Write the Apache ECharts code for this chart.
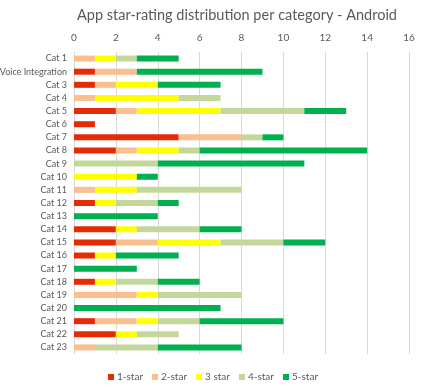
<!DOCTYPE html>
<html><head><meta charset="utf-8">
<script src="https://cdn.jsdelivr.net/npm/echarts@6/dist/echarts.min.js"></script>
<style>html,body{margin:0;padding:0;background:#fff}#c{width:426px;height:390px}</style>
</head><body><div id="c"></div>
<script>
var categories = ["Cat 1","Voice Integration","Cat 3","Cat 4","Cat 5","Cat 6","Cat 7","Cat 8","Cat 9","Cat 10","Cat 11","Cat 12","Cat 13","Cat 14","Cat 15","Cat 16","Cat 17","Cat 18","Cat 19","Cat 20","Cat 21","Cat 22","Cat 23"];
var seriesNames = ["1-star","2-star","3 star","4-star","5-star"];
var star1 = [0,1,1,0,2,1,5,2,0,0,0,1,0,2,2,1,0,1,0,0,1,2,0];
var star2 = [1,2,1,1,1,0,3,1,0,0,1,0,0,0,2,0,0,0,3,0,2,0,1];
var star3 = [1,0,2,4,4,0,0,2,0,3,2,1,0,1,3,1,0,1,1,0,1,1,0];
var star4 = [1,0,0,2,4,0,1,1,4,0,5,2,0,3,3,0,0,2,4,0,2,2,3];
var star5 = [2,6,3,0,2,0,1,8,7,1,0,1,4,2,2,3,3,2,0,7,4,0,4];
var xTicks = [0,2,4,6,8,10,12,14,16];
var colors = ["#E52B05","#FABF8F","#FFFF00","#C4D79B","#00B050"];
var values = [star1,star2,star3,star4,star5];
var font = "Lato";
var chart = echarts.init(document.getElementById('c'));
chart.setOption({
  animation:false,
  title:{text:"App star-rating distribution per category - Android",left:232,top:3,textAlign:'center',
    textStyle:{fontFamily:font,fontSize:14.5,fontWeight:'normal',color:'#595959'}},
  legend:{bottom:3,left:'center',itemWidth:6,itemHeight:6,itemGap:9,icon:'rect',
    textStyle:{fontFamily:font,fontSize:10,color:'#595959',padding:[0,0,0,-2]},data:seriesNames},
  grid:{left:74,right:17,top:52,bottom:36,containLabel:false,outerBoundsMode:'none'},
  xAxis:{type:'value',position:'top',min:xTicks[0],max:xTicks[xTicks.length-1],interval:2,
    axisLine:{show:false},axisTick:{show:false},
    axisLabel:{fontFamily:font,fontSize:10,color:'#595959',margin:9},
    splitLine:{lineStyle:{color:'#D9D9D9',width:1}}},
  yAxis:{type:'category',data:categories,inverse:true,
    axisLine:{show:false},axisTick:{show:false},
    axisLabel:{fontFamily:font,fontSize:9,color:'#595959',margin:7}},
  series:seriesNames.map(function(n,i){return {name:n,type:'bar',stack:'s',data:values[i],
    barWidth:6,itemStyle:{color:colors[i]}};})
});
</script></body></html>
